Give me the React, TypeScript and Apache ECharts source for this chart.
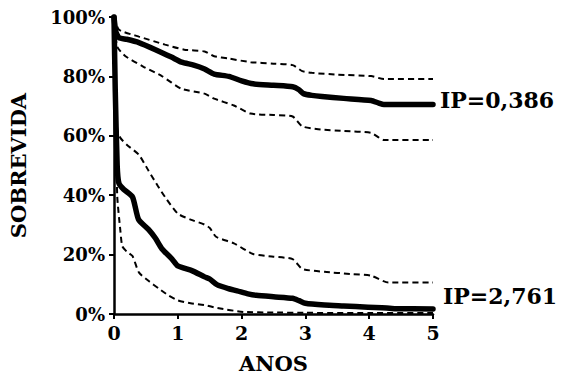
import React, { useEffect, useRef } from "react";
import * as echarts from "echarts";

// Low-risk group (IP=0,386)
const lowT = [0, 0.03, 0.08, 0.2, 0.39, 0.65, 0.9, 1.06, 1.25, 1.42, 1.57, 1.8, 2.0, 2.18, 2.5, 2.8, 2.9, 2.97, 3.1, 3.26, 3.6, 4.03, 4.15, 4.23, 5.0];
const lowS = [100, 95, 93, 92.5, 91.4, 89, 86.5, 84.8, 83.8, 82.5, 80.8, 80, 78.5, 77.5, 77, 76.5, 75.5, 74.2, 73.6, 73.2, 72.6, 71.9, 71, 70.5, 70.5];
const lowUpT = [0, 0.08, 0.39, 0.8, 1.1, 1.42, 1.57, 1.8, 2.14, 2.5, 2.8, 2.95, 3.1, 3.5, 4.03, 4.23, 5];
const lowUpS = [100, 95.7, 93.4, 90.7, 89, 88.4, 86.8, 86, 84.8, 84.3, 83.8, 81.8, 81.2, 80.6, 80.1, 79.1, 79.1];
const lowLoT = [0, 0.05, 0.18, 0.45, 0.75, 1.06, 1.42, 1.57, 1.88, 2.14, 2.5, 2.8, 2.95, 3.2, 3.6, 4.03, 4.23, 5];
const lowLoS = [100, 90, 86.8, 83.4, 80.1, 75.8, 74.2, 72.5, 70.2, 67.5, 67, 66.5, 63.2, 62.2, 61.6, 61, 58.6, 58.6];

// High-risk group (IP=2,761)
const highT = [0, 0.02, 0.05, 0.077, 0.15, 0.29, 0.385, 0.54, 0.65, 0.75, 0.91, 1.0, 1.22, 1.42, 1.5, 1.62, 1.8, 1.93, 2.1, 2.23, 2.5, 2.8, 2.9, 3.0, 3.3, 3.6, 3.98, 4.2, 4.4, 5.0];
const highS = [100, 75, 50, 44, 42, 39.4, 31.8, 28.5, 25.5, 22, 18.5, 16.2, 14.6, 12.5, 11.8, 9.8, 8.5, 7.8, 6.8, 6.3, 5.8, 5.3, 4.5, 3.6, 3.0, 2.7, 2.3, 2.1, 1.8, 1.7];
const highUpT = [0, 0.05, 0.1, 0.2, 0.39, 0.54, 0.69, 0.8, 1.0, 1.2, 1.42, 1.5, 1.6, 1.88, 2.18, 2.5, 2.8, 2.95, 3.3, 3.7, 4.03, 4.3, 5];
const highUpS = [100, 62, 59.3, 57, 53.6, 48.3, 43, 39.4, 33.8, 31.8, 30.1, 29, 26, 23.8, 20.2, 19.3, 18.5, 15.2, 14.2, 13.5, 12.9, 10.6, 10.6];
const highLoT = [0, 0.05, 0.1, 0.13, 0.2, 0.29, 0.39, 0.55, 0.7, 0.85, 1.0, 1.2, 1.42, 1.62, 2.03, 2.5, 3, 4, 5];
const highLoS = [100, 40, 28, 22.8, 21, 19.5, 14, 11, 8.6, 6.3, 4.6, 3.6, 3, 2, 0.7, 0.5, 0.4, 0.3, 0.3];

const xTicks = [0, 1, 2, 3, 4, 5];
const labels = ["IP=0,386", "IP=2,761"];

const zip = (t: number[], s: number[]) => t.map((x, i) => [x, s[i]]);

const solid = (name: string, t: number[], s: number[]) => ({
  name,
  type: "line",
  data: zip(t, s),
  showSymbol: false,
  symbol: "none",
  smooth: 0.2,
  lineStyle: { color: "#000", width: 5.5, join: "round", cap: "round" },
  z: 3,
});
const dashed = (name: string, t: number[], s: number[]) => ({
  name,
  type: "line",
  data: zip(t, s),
  showSymbol: false,
  symbol: "none",
  smooth: 0.2,
  lineStyle: { color: "#000", width: 2, type: [6, 4] },
  z: 2,
});

export default function App() {
  const ref = useRef<HTMLDivElement>(null);
  useEffect(() => {
    const chart = echarts.init(ref.current!, null, { renderer: "svg" });
    const serif = "'DejaVu Serif', serif";
    chart.setOption({
      animation: false,
      backgroundColor: "#fff",
      grid: { left: 108, right: 147, top: 17, bottom: 60, containLabel: false },
      xAxis: {
        type: "value",
        min: xTicks[0],
        max: xTicks[xTicks.length - 1],
        interval: 1,
        name: "ANOS",
        nameLocation: "middle",
        nameGap: 39,
        nameTextStyle: { fontFamily: serif, fontWeight: "bold", fontSize: 21, color: "#000" },
        axisLine: { lineStyle: { color: "#000", width: 2.5 } },
        axisTick: { show: true, length: 5, lineStyle: { color: "#000", width: 2 } },
        axisLabel: { fontFamily: serif, fontWeight: "bold", fontSize: 19, color: "#000", margin: 9 },
        splitLine: { show: false },
      },
      yAxis: {
        type: "value",
        min: 0,
        max: 100,
        interval: 20,
        name: "SOBREVIDA",
        nameLocation: "middle",
        nameGap: 85,
        nameRotate: 90,
        nameTextStyle: { fontFamily: serif, fontWeight: "bold", fontSize: 21, color: "#000" },
        axisLine: { show: true, lineStyle: { color: "#000", width: 2.5 } },
        axisTick: { show: true, length: 5, lineStyle: { color: "#000", width: 2 } },
        axisLabel: { formatter: "{value}%", fontFamily: serif, fontWeight: "bold", fontSize: 18, color: "#000", margin: 9 },
        splitLine: { show: false },
      },
      series: [
        solid("low", lowT, lowS),
        dashed("lowUp", lowUpT, lowUpS),
        dashed("lowLo", lowLoT, lowLoS),
        solid("high", highT, highS),
        dashed("highUp", highUpT, highUpS),
        dashed("highLo", highLoT, highLoS),
      ],
      graphic: [
        { type: "text", left: 440, top: 89, style: { text: labels[0], font: "bold 22px 'DejaVu Serif', serif", fill: "#000" } },
        { type: "text", left: 443, top: 285, style: { text: labels[1], font: "bold 22px 'DejaVu Serif', serif", fill: "#000" } },
      ],
    });
    return () => chart.dispose();
  }, []);
  return <div ref={ref} style={{ position: "fixed", left: 0, top: 0, width: 580, height: 379 }} />;
}
